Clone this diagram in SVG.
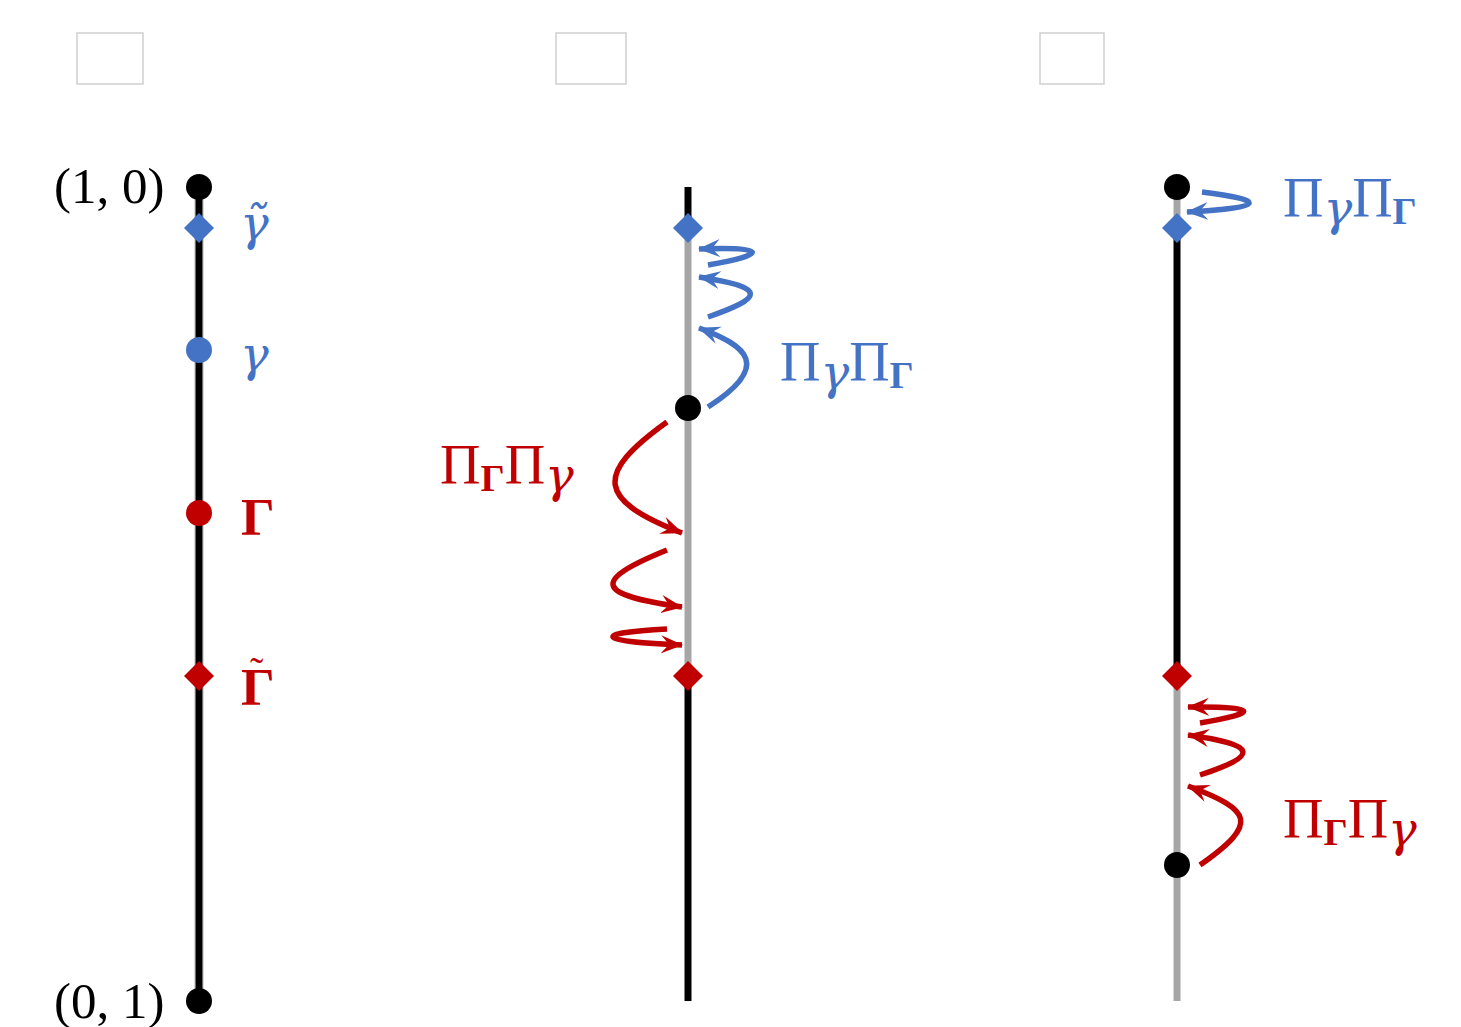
<svg xmlns="http://www.w3.org/2000/svg" width="1461" height="1027" viewBox="0 0 1461 1027">
<style>
.box{fill:#fff;stroke:#cfcfcf;stroke-width:1.5}
.blk{stroke:#000;stroke-width:7}
.gry{stroke:#a6a6a6;stroke-width:7}
.edge{stroke:#d9d9d9;stroke-width:10}
.ab{fill:none;stroke:#4472c4;stroke-width:5.5;marker-end:url(#hb)}
.ar{fill:none;stroke:#c00000;stroke-width:5.5;marker-end:url(#hr)}
.t{font-family:"Liberation Serif","DejaVu Serif",serif;font-size:51px}
.lb{font-family:"Liberation Serif","DejaVu Serif",serif;font-size:56px}
.g{font-family:"DejaVu Serif","Liberation Serif",serif;font-style:italic;font-size:48px}
.G{font-family:"Liberation Serif","DejaVu Serif",serif;font-weight:bold;font-size:53px}
.bl{fill:#4472c4}
.rd{fill:#c00000}
</style>
<defs>
<marker id="hb" markerUnits="userSpaceOnUse" markerWidth="24" markerHeight="20" viewBox="0 0 24 20" refX="21" refY="10" orient="auto">
<path d="M0,1 L22,10 L0,19 L8,10 z" fill="#4472c4"/>
</marker>
<marker id="hr" markerUnits="userSpaceOnUse" markerWidth="24" markerHeight="20" viewBox="0 0 24 20" refX="21" refY="10" orient="auto">
<path d="M0,1 L22,10 L0,19 L8,10 z" fill="#c00000"/>
</marker>
</defs>

<g id="boxes">
<rect class="box" x="77" y="33" width="66" height="51"/>
<rect class="box" x="556" y="33" width="70" height="51"/>
<rect class="box" x="1040" y="33" width="64" height="51"/>
</g>

<g id="lines">
<line class="edge" x1="199" y1="187" x2="199" y2="1001"/>
<line class="blk" x1="199" y1="187" x2="199" y2="1001"/>
<line class="blk" x1="688" y1="187" x2="688" y2="228"/>
<line class="gry" x1="688" y1="228" x2="688" y2="676"/>
<line class="blk" x1="688" y1="676" x2="688" y2="1001"/>
<line class="gry" x1="1177" y1="187" x2="1177" y2="228"/>
<line class="blk" x1="1177" y1="228" x2="1177" y2="676"/>
<line class="gry" x1="1177" y1="676" x2="1177" y2="1001"/>
</g>

<g id="connectors">
<path class="ab" d="M708,407 C772,366 748,346 699,328"/>
<path class="ab" d="M708,317 C762,298 770,288 699,277"/>
<path class="ab" d="M708,265 C767,255 770,246 699,249"/>
<path class="ar" d="M667,422 C593,475 598,500 682,533"/>
<path class="ar" d="M667,550 C588,582 598,595 682,607"/>
<path class="ar" d="M667,629 C588,633 598,642 682,645"/>
<path class="ab" d="M1202,192 C1267,200 1267,208 1187,212"/>
<path class="ar" d="M1200,865 C1260,823 1252,810 1188,786"/>
<path class="ar" d="M1200,775 C1260,755 1258,745 1188,735"/>
<path class="ar" d="M1200,723 C1260,713 1260,706 1188,707"/>
</g>

<g id="n-left-top"><circle cx="199" cy="187" r="13"/><text class="t" x="54" y="203">(1, 0)</text></g>
<g id="n-left-gt"><path class="bl" d="M199,213 L214,228 L199,243 L184,228 z"/><text class="g bl" x="240" y="240">γ̃</text></g>
<g id="n-left-g"><circle class="bl" cx="199" cy="350" r="13"/><text class="g bl" x="240" y="371">γ</text></g>
<g id="n-left-G"><circle class="rd" cx="199" cy="513" r="13"/><text class="G rd" x="241" y="535">Γ</text></g>
<g id="n-left-Gt"><path class="rd" d="M199,661 L214,676 L199,691 L184,676 z"/><text class="G rd" x="241" y="705">Γ<tspan x="250" y="685" font-size="40" font-weight="normal">˜</tspan></text></g>
<g id="n-left-bot"><circle cx="199" cy="1001" r="13"/><text class="t" x="54" y="1018">(0, 1)</text></g>

<g id="n-mid-gt"><path class="bl" d="M688,213 L703,228 L688,243 L673,228 z"/></g>
<g id="n-mid-dot"><circle cx="688" cy="408" r="13"/></g>
<g id="n-mid-Gt"><path class="rd" d="M688,661 L703,676 L688,691 L673,676 z"/></g>
<g id="l-mid-blue"><text class="lb bl" x="780" y="381">Π<tspan class="g" font-size="34" dy="8">γ</tspan><tspan dy="-8">Π</tspan><tspan font-size="38" dy="7" font-weight="bold">Γ</tspan></text></g>
<g id="l-mid-red"><text class="lb rd" x="440" y="484">Π<tspan font-size="38" dy="7" font-weight="bold">Γ</tspan><tspan dy="-7">Π</tspan><tspan class="g" font-size="34" dy="8">γ</tspan></text></g>

<g id="n-right-top"><circle cx="1177" cy="187" r="13"/></g>
<g id="n-right-gt"><path class="bl" d="M1177,213 L1192,228 L1177,243 L1162,228 z"/></g>
<g id="n-right-Gt"><path class="rd" d="M1177,661 L1192,676 L1177,691 L1162,676 z"/></g>
<g id="n-right-dot"><circle cx="1177" cy="865" r="13"/></g>
<g id="l-right-blue"><text class="lb bl" x="1283" y="217">Π<tspan class="g" font-size="34" dy="8">γ</tspan><tspan dy="-8">Π</tspan><tspan font-size="38" dy="7" font-weight="bold">Γ</tspan></text></g>
<g id="l-right-red"><text class="lb rd" x="1283" y="838">Π<tspan font-size="38" dy="7" font-weight="bold">Γ</tspan><tspan dy="-7">Π</tspan><tspan class="g" font-size="34" dy="8">γ</tspan></text></g>
</svg>
